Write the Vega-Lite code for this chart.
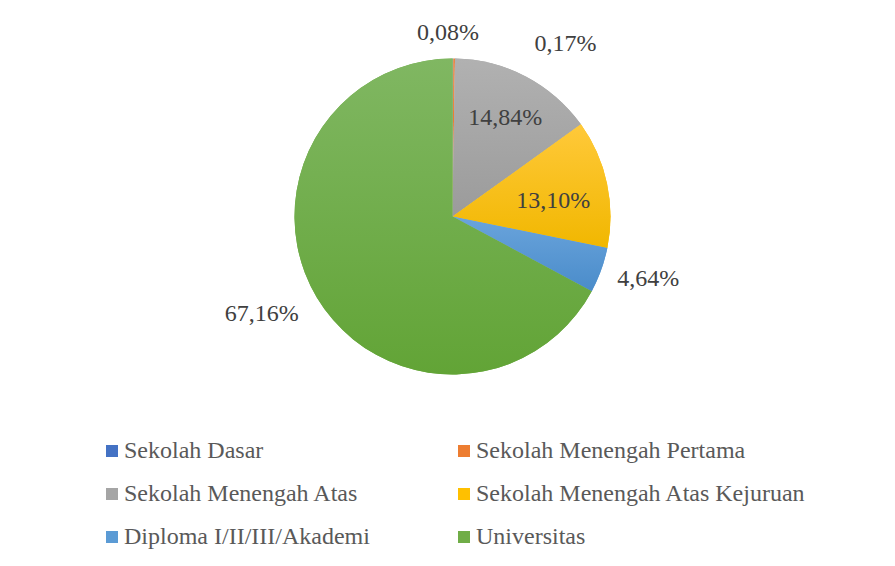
{
  "$schema": "https://vega.github.io/schema/vega-lite/v6.json",
  "autosize": {"type": "none"},
  "width": 893,
  "height": 566,
  "padding": {"left": 4, "top": 2, "right": 0, "bottom": 0},
  "background": "white",
  "config": {
    "view": {"stroke": "#d9d9d9", "strokeWidth": 1.5},
    "text": {"font": "Liberation Serif, Times New Roman, serif", "fontSize": 24, "fill": "#404040"}
  },
  "data": {
    "values": [
      {"idx": 1, "kategori": "Sekolah Dasar", "persen": 0.08, "label": "0,08%"},
      {"idx": 2, "kategori": "Sekolah Menengah Pertama", "persen": 0.17, "label": "0,17%"},
      {"idx": 3, "kategori": "Sekolah Menengah Atas", "persen": 14.84, "label": "14,84%"},
      {"idx": 4, "kategori": "Sekolah Menengah Atas Kejuruan", "persen": 13.10, "label": "13,10%"},
      {"idx": 5, "kategori": "Diploma I/II/III/Akademi", "persen": 4.64, "label": "4,64%"},
      {"idx": 6, "kategori": "Universitas", "persen": 67.16, "label": "67,16%"}
    ]
  },
  "encoding": {
    "theta": {"field": "persen", "type": "quantitative", "stack": true},
    "order": {"field": "idx", "type": "quantitative"}
  },
  "layer": [
    {
      "mark": {"type": "arc", "outerRadius": 158, "xOffset": 2, "yOffset": -68.5},
      "encoding": {
        "color": {
          "field": "kategori",
          "type": "nominal",
          "sort": null,
          "scale": {
            "domain": ["Sekolah Dasar", "Sekolah Menengah Pertama", "Sekolah Menengah Atas", "Sekolah Menengah Atas Kejuruan", "Diploma I/II/III/Akademi", "Universitas"],
            "range": ["#4472C4", "#ED7D31", "#A5A5A5", "#FFC000", "#5B9BD5", "#70AD47"]
          },
          "legend": {
            "title": null,
            "orient": "none",
            "legendX": 96,
            "legendY": 437,
            "direction": "horizontal",
            "columns": 2,
            "columnPadding": 82,
            "rowPadding": 19,
            "padding": 0,
            "symbolType": "square",
            "symbolSize": 144,
            "symbolStrokeWidth": 0,
            "labelFont": "Liberation Serif, Times New Roman, serif",
            "labelFontSize": 24,
            "labelColor": "#595959",
            "labelOffset": 0,
            "labelLimit": 500
          }
        }
      }
    },
    {
      "mark": {"type": "arc", "outerRadius": 158, "xOffset": 2, "yOffset": -68.5,
        "color": {"gradient": "linear", "x1": 0, "y1": 0, "x2": 0, "y2": 1, "stops": [{"offset": 0, "color": "#b1b1b1"}, {"offset": 1, "color": "#9b9b9b"}]}},
      "encoding": {
        "opacity": {"condition": {"test": "datum.idx == 3", "value": 1}, "value": 0}
      }
    },
    {
      "mark": {"type": "arc", "outerRadius": 158, "xOffset": 2, "yOffset": -68.5,
        "color": {"gradient": "linear", "x1": 0, "y1": 0, "x2": 0, "y2": 1, "stops": [{"offset": 0, "color": "#ffc93a"}, {"offset": 1, "color": "#f1b700"}]}},
      "encoding": {
        "opacity": {"condition": {"test": "datum.idx == 4", "value": 1}, "value": 0}
      }
    },
    {
      "mark": {"type": "arc", "outerRadius": 158, "xOffset": 2, "yOffset": -68.5,
        "color": {"gradient": "linear", "x1": 0, "y1": 0, "x2": 0, "y2": 1, "stops": [{"offset": 0, "color": "#6aa4dc"}, {"offset": 1, "color": "#4a8cca"}]}},
      "encoding": {
        "opacity": {"condition": {"test": "datum.idx == 5", "value": 1}, "value": 0}
      }
    },
    {
      "mark": {"type": "arc", "outerRadius": 158, "xOffset": 2, "yOffset": -68.5,
        "color": {"gradient": "linear", "x1": 0, "y1": 0, "x2": 0, "y2": 1, "stops": [{"offset": 0, "color": "#80b762"}, {"offset": 1, "color": "#62a436"}]}},
      "encoding": {
        "opacity": {"condition": {"test": "datum.idx == 6", "value": 1}, "value": 0}
      }
    },
    {
      "mark": {"type": "text", "radius": 114, "xOffset": 2, "yOffset": -68.5, "dy": 3},
      "encoding": {
        "text": {"field": "label"},
        "opacity": {"condition": {"test": "datum.idx == 3", "value": 1}, "value": 0}
      }
    },
    {
      "mark": {"type": "text", "radius": 101, "xOffset": 2, "yOffset": -68.5, "dx": 2, "dy": 6},
      "encoding": {
        "text": {"field": "label"},
        "opacity": {"condition": {"test": "datum.idx == 4", "value": 1}, "value": 0}
      }
    },
    {
      "mark": {"type": "text", "radius": 207, "xOffset": 2, "yOffset": -68.5, "dx": 1, "dy": -8},
      "encoding": {
        "text": {"field": "label"},
        "opacity": {"condition": {"test": "datum.idx == 5", "value": 1}, "value": 0}
      }
    },
    {
      "mark": {"type": "text", "radius": 213, "xOffset": 2, "yOffset": -68.5, "dx": -8, "dy": -12},
      "encoding": {
        "text": {"field": "label"},
        "opacity": {"condition": {"test": "datum.idx == 6", "value": 1}, "value": 0}
      }
    },
    {
      "mark": {"type": "text", "radius": 184, "xOffset": 2, "yOffset": -68.5, "dx": -5},
      "encoding": {
        "text": {"field": "label"},
        "opacity": {"condition": {"test": "datum.idx == 1", "value": 1}, "value": 0}
      }
    },
    {
      "mark": {"type": "text", "radius": 184, "xOffset": 2, "yOffset": -68.5, "dx": 111, "dy": 11},
      "encoding": {
        "text": {"field": "label"},
        "opacity": {"condition": {"test": "datum.idx == 2", "value": 1}, "value": 0}
      }
    }
  ]
}
